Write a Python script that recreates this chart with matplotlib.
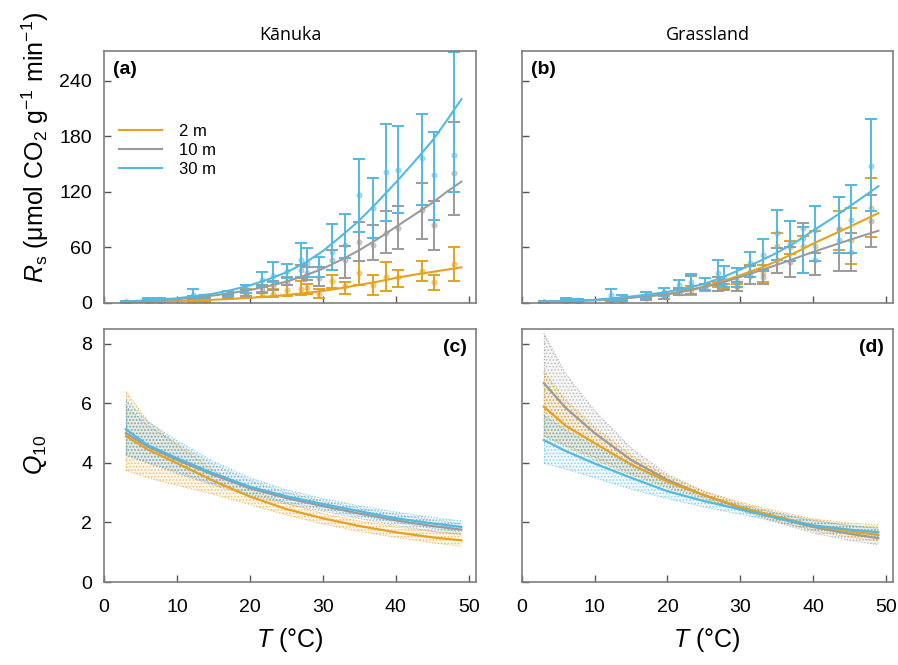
import matplotlib.pyplot as plt
import numpy as np

plt.rcParams['font.family'] = ['Liberation Sans', 'DejaVu Sans']
plt.rcParams['mathtext.fontset'] = 'custom'
plt.rcParams['mathtext.rm'] = 'Liberation Sans'
plt.rcParams['mathtext.it'] = 'Liberation Sans:italic'
plt.rcParams['hatch.linewidth'] = 0.8
plt.rcParams['xtick.direction'] = 'in'
plt.rcParams['ytick.direction'] = 'in'
plt.rcParams['xtick.major.pad'] = 12
plt.rcParams['ytick.major.pad'] = 8.5
plt.rcParams['xtick.labelsize'] = 14
plt.rcParams['ytick.labelsize'] = 14

c2 = '#E6A21E'
c10 = '#9B9B9B'
c30 = '#52B9E3'

# temperatures of the measured points (deg C)
temp = [3, 6, 7.7, 12.2, 13.8, 17, 19.5, 21.6, 23.2, 25.1, 27, 27.8, 29.5,
        31.3, 33.1, 35, 36.9, 38.6, 40.3, 43.6, 45.2, 48]

# (a) Kanuka, Rs mean / lower / upper
ka_2_mean = [1, 2, 2, 2, 2, 7, 10, 9, 10, 14, 15, 16, 10, 24, 18, 32, 19.5, 28, 28, 35, 23, 42]
ka_2_lo = [0.5, 1, 1, 1, 1, 4, 5, 6, 6, 7, 8.6, 10, 5, 16, 10, 19.5, 8.6, 13, 17, 24, 14, 24]
ka_2_hi = [1.5, 3, 3, 3, 3, 10, 15, 12, 15, 19.5, 24, 21, 15, 30, 23, 45, 30, 44, 36, 45, 30, 60]
ka_10_mean = [1.2, 2.5, 2.5, 5, 4, 7, 11, 15, 19, 23, 36, 32, 27, 46, 46, 66, 63, 76, 81, 100, 84, 140]
ka_10_lo = [0.6, 1.5, 1.5, 3, 2.5, 5, 8, 11, 14, 19, 27, 25, 18, 36, 27, 45, 46, 54, 58, 69, 57, 95]
ka_10_hi = [1.8, 3.5, 3.5, 7, 5.5, 9, 14, 19, 24, 28, 41, 39, 39, 57, 61, 87, 84, 99, 105, 130, 110, 195]
ka_30_mean = [1.5, 3.2, 3, 8.6, 5, 9.7, 15, 25, 29, 34, 46, 43, 39, 55, 63, 116, 103, 141, 144, 156, 138, 160]
ka_30_lo = [0.8, 1.5, 1.5, 4, 2, 7, 10.5, 17.7, 23, 27, 28, 28, 28, 36, 48, 77, 70, 89, 97, 106, 90, 120]
ka_30_hi = [2.2, 5, 5, 15.5, 8.6, 13, 19.5, 33, 44, 42, 65, 59, 50, 85, 96, 155, 135, 193, 191, 204, 185, 271]

# (b) Grassland
gr_2_mean = [1, 2, 2, 3, 3, 5, 7, 11, 14, 16, 20, 18, 17, 33, 32, 62, 60, 61, 62, 80, 68, 103]
gr_2_lo = [0.5, 1, 1, 2, 2, 3, 4, 8.6, 9, 13, 17.7, 15, 13, 28.5, 23, 32, 53, 32, 45, 57, 42, 71]
gr_2_hi = [1.5, 3, 3, 4, 4, 7, 10, 14, 18, 20, 23, 21, 21, 41, 41, 75, 67, 72, 78, 99, 103, 135]
gr_10_mean = [1, 2, 2, 3, 3, 5, 7, 12, 18, 17, 20, 19, 18, 29, 28, 46.5, 44, 81, 46, 80, 55, 89]
gr_10_lo = [0.5, 1, 1, 2, 2, 3, 4, 9, 10, 14, 13, 14, 13, 20.5, 20.5, 32, 28.5, 32, 30, 34, 34, 60]
gr_10_hi = [1.5, 3, 3, 4, 4, 7, 10, 16, 29, 20, 28.5, 25, 23, 40, 36, 59, 60, 86, 54, 114, 75, 117]
gr_30_mean = [1.5, 3.5, 3, 8.6, 6, 9, 12, 19.5, 23, 21, 32, 26.7, 24, 43, 52, 75, 64, 70, 79, 68, 90, 148]
gr_30_lo = [0.8, 2, 1.5, 3, 3.2, 5, 7, 14, 15, 14, 19.5, 17.7, 17.7, 28.5, 34, 46.5, 45, 32, 45, 54, 54, 99]
gr_30_hi = [2.2, 5, 4.5, 15, 8.6, 12, 16, 25, 31, 26.7, 46, 40, 38, 55.5, 69, 100.5, 89, 82.5, 105, 114, 127, 199]

# fitted Rs curves read at these temperatures
fit_t = [3, 10, 15, 17.5, 20, 22.5, 25, 27.5, 30, 32.5, 35, 37.5, 40, 42.5, 45, 47, 49]
ka_fit_2 = [1, 2, 3.5, 4.4, 5.5, 7, 8.6, 10.7, 13, 16, 19.5, 23, 27, 30.5, 33.5, 36, 38.5]
ka_fit_10 = [1.2, 4, 8, 10.8, 14, 18.2, 23, 29.5, 37, 46.5, 57, 69, 82, 95, 108, 120, 131]
ka_fit_30 = [1.5, 5, 10, 14, 19, 25.5, 33, 43, 56, 72, 89, 109, 130, 152, 175, 197, 220]
gr_fit_2 = [1.3, 3, 5.8, 7.5, 9.5, 13, 17.5, 23, 30, 37, 45, 54, 64, 73, 82, 89.5, 97]
gr_fit_10 = [1.3, 3, 5.8, 7.5, 9.5, 12.8, 17, 22, 28, 34.5, 41, 48, 55, 61.5, 68, 73, 78]
gr_fit_30 = [1.5, 3.3, 7, 9.3, 12, 15.8, 20.5, 27.5, 36, 44.5, 54, 65, 78, 90.5, 104, 115, 126]

# Q10 curves and bands
q_t = [3, 6, 10, 15, 20, 25, 30, 35, 40, 45, 49]
kq_2 = [4.9, 4.45, 3.99, 3.4, 2.87, 2.45, 2.14, 1.88, 1.67, 1.5, 1.4]
kq_2_hi = [6.4, 5.4, 4.6, 3.75, 3.1, 2.65, 2.3, 2.05, 1.85, 1.7, 1.62]
kq_2_lo = [3.76, 3.5, 3.25, 2.95, 2.6, 2.25, 1.95, 1.7, 1.5, 1.32, 1.2]
kq_10 = [5.0, 4.55, 4.1, 3.6, 3.15, 2.82, 2.55, 2.3, 2.07, 1.88, 1.76]
kq_10_hi = [5.9, 5.25, 4.65, 3.95, 3.4, 3.0, 2.72, 2.48, 2.27, 2.08, 1.96]
kq_10_lo = [4.3, 4.0, 3.65, 3.25, 2.9, 2.62, 2.38, 2.13, 1.9, 1.7, 1.58]
kq_30 = [5.13, 4.6, 4.16, 3.65, 3.2, 2.88, 2.62, 2.38, 2.14, 1.97, 1.85]
kq_30_hi = [6.1, 5.4, 4.75, 4.05, 3.5, 3.1, 2.8, 2.56, 2.35, 2.17, 2.05]
kq_30_lo = [4.25, 4.0, 3.7, 3.3, 2.95, 2.68, 2.45, 2.22, 2.0, 1.8, 1.68]

gq_2 = [5.89, 5.25, 4.66, 3.95, 3.37, 2.92, 2.52, 2.2, 1.9, 1.7, 1.58]
gq_2_hi = [7.07, 6.1, 5.2, 4.25, 3.55, 3.05, 2.68, 2.38, 2.12, 1.98, 1.92]
gq_2_lo = [4.9, 4.55, 4.1, 3.6, 3.15, 2.8, 2.42, 2.05, 1.72, 1.5, 1.38]
gq_10 = [6.68, 5.85, 5.0, 4.1, 3.43, 2.92, 2.5, 2.15, 1.85, 1.62, 1.47]
gq_10_hi = [8.36, 7.0, 5.75, 4.5, 3.62, 3.05, 2.62, 2.32, 2.08, 1.9, 1.8]
gq_10_lo = [4.9, 4.6, 4.2, 3.65, 3.2, 2.85, 2.4, 2.0, 1.65, 1.4, 1.25]
gq_30 = [4.77, 4.4, 3.98, 3.5, 3.05, 2.72, 2.44, 2.15, 1.9, 1.76, 1.67]
gq_30_hi = [5.61, 5.1, 4.55, 3.9, 3.3, 2.92, 2.58, 2.3, 2.05, 1.9, 1.82]
gq_30_lo = [3.99, 3.8, 3.5, 3.12, 2.8, 2.52, 2.28, 2.02, 1.76, 1.62, 1.52]


fig = plt.figure(figsize=(8.98, 6.65), dpi=100)
ax_a = fig.add_axes([0.1158, 0.5444, 0.4143, 0.379])
ax_b = fig.add_axes([0.5813, 0.5444, 0.4131, 0.379])
ax_c = fig.add_axes([0.1158, 0.1248, 0.4143, 0.3805])
ax_d = fig.add_axes([0.5813, 0.1248, 0.4131, 0.3805])


def style(ax):
    for s in ax.spines.values():
        s.set_color('#7f7f7f')
        s.set_linewidth(1.2)
    ax.tick_params(length=5, width=1, color='#555555')
    ax.set_xlim(0, 51)
    ax.set_xticks([0, 10, 20, 30, 40, 50])


def rs_panel(ax, series, fits):
    for m, lo, hi, col in series:
        m = np.array(m)
        err = [m - np.array(lo), np.array(hi) - m]
        ax.errorbar(temp, m, yerr=err, fmt='none', ecolor=col, elinewidth=1.4,
                    capsize=4, capthick=1.4)
        ax.plot(temp, m, 'o', color=col, ms=3.5, alpha=0.45)
    for fit, col, lab in zip(fits, [c2, c10, c30], ['2 m', '10 m', '30 m']):
        ax.plot(fit_t, fit, color=col, lw=1.5, label=lab)
    ax.set_ylim(0, 272)
    ax.set_yticks([0, 60, 120, 180, 240])
    style(ax)
    ax.tick_params(labelbottom=False)


def q_panel(ax, curves):
    for mid, lo, hi, col in curves:
        ax.fill_between(q_t, lo, hi, facecolor=col, alpha=0.08, lw=0)
        ax.fill_between(q_t, lo, hi, facecolor='none', edgecolor=col,
                        hatch='.....', lw=0, alpha=0.55)
        ax.plot(q_t, lo, ':', color=col, lw=0.8, alpha=0.7)
        ax.plot(q_t, hi, ':', color=col, lw=0.8, alpha=0.7)
        ax.plot([q_t[0], q_t[0]], [lo[0], hi[0]], ':', color=col, lw=0.8, alpha=0.7)
    for mid, lo, hi, col in curves:
        ax.plot(q_t, mid, color=col, lw=1.6)
    ax.set_ylim(0, 8.5)
    ax.set_yticks([0, 2, 4, 6, 8])
    style(ax)


rs_panel(ax_a, [(ka_2_mean, ka_2_lo, ka_2_hi, c2), (ka_10_mean, ka_10_lo, ka_10_hi, c10),
                (ka_30_mean, ka_30_lo, ka_30_hi, c30)], [ka_fit_2, ka_fit_10, ka_fit_30])
rs_panel(ax_b, [(gr_2_mean, gr_2_lo, gr_2_hi, c2), (gr_10_mean, gr_10_lo, gr_10_hi, c10),
                (gr_30_mean, gr_30_lo, gr_30_hi, c30)], [gr_fit_2, gr_fit_10, gr_fit_30])
ax_b.tick_params(labelleft=False)

q_panel(ax_c, [(kq_2, kq_2_lo, kq_2_hi, c2), (kq_10, kq_10_lo, kq_10_hi, c10),
               (kq_30, kq_30_lo, kq_30_hi, c30)])
q_panel(ax_d, [(gq_10, gq_10_lo, gq_10_hi, c10), (gq_2, gq_2_lo, gq_2_hi, c2),
               (gq_30, gq_30_lo, gq_30_hi, c30)])
ax_d.tick_params(labelleft=False)

ax_a.legend(loc='upper left', bbox_to_anchor=(0.0, 0.77), frameon=False,
            fontsize=12, handlelength=2.6, labelspacing=0.25, handletextpad=1.0)

ax_a.set_title('Kānuka', fontsize=13, family=['Open Sans', 'DejaVu Sans'], pad=8)
ax_b.set_title('Grassland', fontsize=13, family=['Open Sans', 'DejaVu Sans'], pad=8)

ax_a.text(0.025, 0.96, '(a)', transform=ax_a.transAxes, fontsize=14, fontweight='bold', va='top')
ax_b.text(0.025, 0.96, '(b)', transform=ax_b.transAxes, fontsize=14, fontweight='bold', va='top')
ax_c.text(0.975, 0.96, '(c)', transform=ax_c.transAxes, fontsize=14, fontweight='bold', va='top', ha='right')
ax_d.text(0.975, 0.96, '(d)', transform=ax_d.transAxes, fontsize=14, fontweight='bold', va='top', ha='right')

fig.text(0.039, 0.778, r'$R_\mathrm{s}$ ($\mathrm{\mu}$mol CO$_2$ g$^{-1}$ min$^{-1}$)',
         rotation=90, fontsize=18, ha='center', va='center')
fig.text(0.039, 0.316, r'$Q_{10}$', rotation=90, fontsize=18, ha='center', va='center')
fig.text(0.323, 0.038, r'$T$ ($\degree$C)', fontsize=18, ha='center', va='center')
fig.text(0.787, 0.038, r'$T$ ($\degree$C)', fontsize=18, ha='center', va='center')

fig.savefig('out.png', dpi=100)
